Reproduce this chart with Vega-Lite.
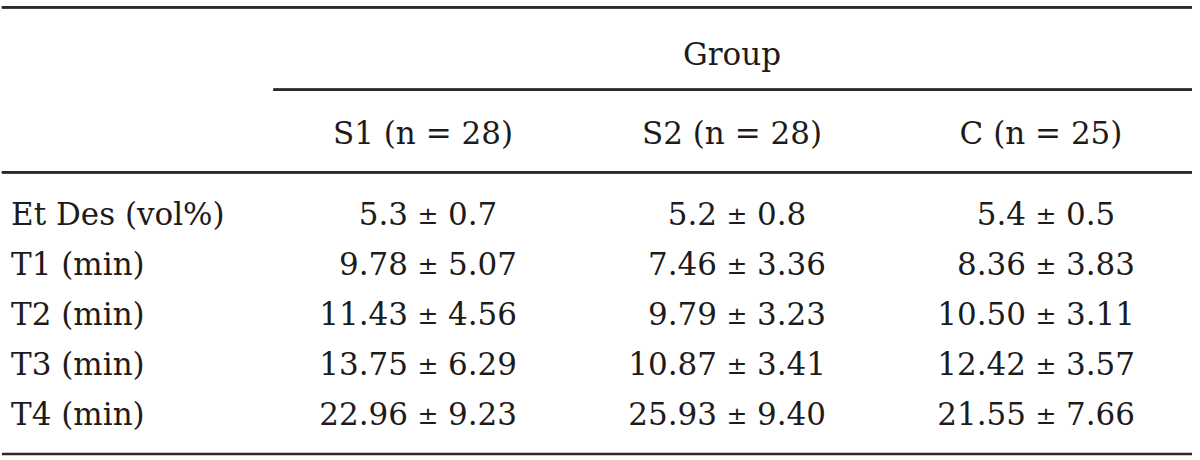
{
  "$schema": "https://vega.github.io/schema/vega-lite/v6.json",
  "width": 1200,
  "height": 460,
  "autosize": {"type": "none"},
  "padding": 0,
  "background": "white",
  "config": {
    "view": {"stroke": null},
    "text": {"font": "DejaVu Serif", "fontSize": 31, "color": "#1e1b1c", "baseline": "middle"},
    "rule": {"color": "#2a2a2a", "strokeWidth": 2.5},
    "axis": {"disable": true}
  },
  "datasets": {
    "groups": [
      {"group": "S1", "header": "S1 (n = 28)"},
      {"group": "S2", "header": "S2 (n = 28)"},
      {"group": "C", "header": "C (n = 25)"}
    ],
    "stats": [
      {"variable": "Et Des (vol%)", "group": "S1", "mean": 5.3, "sd": 0.7},
      {"variable": "Et Des (vol%)", "group": "S2", "mean": 5.2, "sd": 0.8},
      {"variable": "Et Des (vol%)", "group": "C", "mean": 5.4, "sd": 0.5},
      {"variable": "T1 (min)", "group": "S1", "mean": 9.78, "sd": 5.07},
      {"variable": "T1 (min)", "group": "S2", "mean": 7.46, "sd": 3.36},
      {"variable": "T1 (min)", "group": "C", "mean": 8.36, "sd": 3.83},
      {"variable": "T2 (min)", "group": "S1", "mean": 11.43, "sd": 4.56},
      {"variable": "T2 (min)", "group": "S2", "mean": 9.79, "sd": 3.23},
      {"variable": "T2 (min)", "group": "C", "mean": 10.50, "sd": 3.11},
      {"variable": "T3 (min)", "group": "S1", "mean": 13.75, "sd": 6.29},
      {"variable": "T3 (min)", "group": "S2", "mean": 10.87, "sd": 3.41},
      {"variable": "T3 (min)", "group": "C", "mean": 12.42, "sd": 3.57},
      {"variable": "T4 (min)", "group": "S1", "mean": 22.96, "sd": 9.23},
      {"variable": "T4 (min)", "group": "S2", "mean": 25.93, "sd": 9.40},
      {"variable": "T4 (min)", "group": "C", "mean": 21.55, "sd": 7.66}
    ]
  },
  "layer": [
    {
      "data": {"name": "groups"},
      "layer": [
        {
          "mark": {"type": "rule"},
          "encoding": {
            "x": {"datum": "Variable", "type": "nominal", "bandPosition": 0.121, "title": null,
                  "scale": {"type": "band", "domain": ["Variable", "S1", "S2", "C"], "range": [-35.5, 1200.5], "paddingInner": 0, "paddingOuter": 0}},
            "x2": {"datum": "C", "bandPosition": 0.9725},
            "y": {"datum": "Group", "type": "nominal", "bandPosition": 0,
                  "scale": {"type": "band", "domain": ["Group", "Header"], "range": [7.3, 172.3], "paddingInner": 0, "paddingOuter": 0}}
          }
        },
        {
          "mark": {"type": "rule"},
          "encoding": {
            "x": {"datum": "S1", "type": "nominal", "bandPosition": 0, "title": null,
                  "scale": {"type": "band", "domain": ["Variable", "S1", "S2", "C"], "range": [-35.5, 1200.5], "paddingInner": 0, "paddingOuter": 0}},
            "x2": {"datum": "C", "bandPosition": 0.9725},
            "y": {"datum": "Header", "type": "nominal", "bandPosition": 0,
                  "scale": {"type": "band", "domain": ["Group", "Header"], "range": [7.3, 172.3], "paddingInner": 0, "paddingOuter": 0}}
          }
        },
        {
          "mark": {"type": "rule"},
          "encoding": {
            "x": {"datum": "Variable", "type": "nominal", "bandPosition": 0.121, "title": null,
                  "scale": {"type": "band", "domain": ["Variable", "S1", "S2", "C"], "range": [-35.5, 1200.5], "paddingInner": 0, "paddingOuter": 0}},
            "x2": {"datum": "C", "bandPosition": 0.9725},
            "y": {"datum": "Header", "type": "nominal", "bandPosition": 1,
                  "scale": {"type": "band", "domain": ["Group", "Header"], "range": [7.3, 172.3], "paddingInner": 0, "paddingOuter": 0}}
          }
        },
        {
          "mark": {"type": "text", "align": "center", "dx": -5},
          "encoding": {
            "x": {"field": "group", "type": "nominal", "title": null,
                  "scale": {"type": "band", "domain": ["Variable", "S1", "S2", "C"], "range": [-35.5, 1200.5], "paddingInner": 0, "paddingOuter": 0}},
            "y": {"datum": "Header", "type": "nominal", "bandPosition": 0.545,
                  "scale": {"type": "band", "domain": ["Group", "Header"], "range": [7.3, 172.3], "paddingInner": 0, "paddingOuter": 0}},
            "text": {"field": "header"}
          }
        },
        {
          "data": {"values": [{"spanner": "Group"}]},
          "mark": {"type": "text", "align": "center", "dx": -5},
          "encoding": {
            "x": {"datum": "S2", "type": "nominal", "title": null,
                  "scale": {"type": "band", "domain": ["Variable", "S1", "S2", "C"], "range": [-35.5, 1200.5], "paddingInner": 0, "paddingOuter": 0}},
            "y": {"datum": "Group", "type": "nominal", "bandPosition": 0.585,
                  "scale": {"type": "band", "domain": ["Group", "Header"], "range": [7.3, 172.3], "paddingInner": 0, "paddingOuter": 0}},
            "text": {"field": "spanner"}
          }
        }
      ]
    },
    {
      "data": {"name": "stats"},
      "layer": [
        {
          "transform": [{"filter": "datum.group === 'S1'"}],
          "mark": {"type": "text", "align": "left", "dx": 46.5},
          "encoding": {
            "x": {"datum": "Variable", "type": "nominal", "bandPosition": 0, "title": null,
                  "scale": {"type": "band", "domain": ["Variable", "S1", "S2", "C"], "range": [-35.5, 1200.5], "paddingInner": 0, "paddingOuter": 0}},
            "y": {"field": "variable", "type": "nominal",
                  "scale": {"type": "band", "domain": ["Et Des (vol%)", "T1 (min)", "T2 (min)", "T3 (min)", "T4 (min)"], "range": [191.3, 441.3], "paddingInner": 0, "paddingOuter": 0}},
            "text": {"field": "variable"}
          }
        },
        {
          "mark": {"type": "text", "align": "right", "dx": -20},
          "encoding": {
            "x": {"field": "group", "type": "nominal", "title": null,
                  "scale": {"type": "band", "domain": ["Variable", "S1", "S2", "C"], "range": [-35.5, 1200.5], "paddingInner": 0, "paddingOuter": 0}},
            "y": {"field": "variable", "type": "nominal",
                  "scale": {"type": "band", "domain": ["Et Des (vol%)", "T1 (min)", "T2 (min)", "T3 (min)", "T4 (min)"], "range": [191.3, 441.3], "paddingInner": 0, "paddingOuter": 0}},
            "text": {
              "condition": {"test": "datum.variable === 'Et Des (vol%)'", "field": "mean", "type": "quantitative", "format": ".1f"},
              "field": "mean", "type": "quantitative", "format": ".2f"
            }
          }
        },
        {
          "mark": {"type": "text", "align": "center", "text": "±", "fontSize": 25},
          "encoding": {
            "x": {"field": "group", "type": "nominal", "title": null,
                  "scale": {"type": "band", "domain": ["Variable", "S1", "S2", "C"], "range": [-35.5, 1200.5], "paddingInner": 0, "paddingOuter": 0}},
            "y": {"field": "variable", "type": "nominal",
                  "scale": {"type": "band", "domain": ["Et Des (vol%)", "T1 (min)", "T2 (min)", "T3 (min)", "T4 (min)"], "range": [191.3, 441.3], "paddingInner": 0, "paddingOuter": 0}}
          }
        },
        {
          "mark": {"type": "text", "align": "left", "dx": 20},
          "encoding": {
            "x": {"field": "group", "type": "nominal", "title": null,
                  "scale": {"type": "band", "domain": ["Variable", "S1", "S2", "C"], "range": [-35.5, 1200.5], "paddingInner": 0, "paddingOuter": 0}},
            "y": {"field": "variable", "type": "nominal",
                  "scale": {"type": "band", "domain": ["Et Des (vol%)", "T1 (min)", "T2 (min)", "T3 (min)", "T4 (min)"], "range": [191.3, 441.3], "paddingInner": 0, "paddingOuter": 0}},
            "text": {
              "condition": {"test": "datum.variable === 'Et Des (vol%)'", "field": "sd", "type": "quantitative", "format": ".1f"},
              "field": "sd", "type": "quantitative", "format": ".2f"
            }
          }
        },
        {
          "transform": [{"filter": "datum.group === 'S1' && datum.variable === 'T4 (min)'"}],
          "mark": {"type": "rule"},
          "encoding": {
            "x": {"datum": "Variable", "type": "nominal", "bandPosition": 0.121, "title": null,
                  "scale": {"type": "band", "domain": ["Variable", "S1", "S2", "C"], "range": [-35.5, 1200.5], "paddingInner": 0, "paddingOuter": 0}},
            "x2": {"datum": "C", "bandPosition": 0.9725},
            "y": {"field": "variable", "type": "nominal", "bandPosition": 1.254,
                  "scale": {"type": "band", "domain": ["Et Des (vol%)", "T1 (min)", "T2 (min)", "T3 (min)", "T4 (min)"], "range": [191.3, 441.3], "paddingInner": 0, "paddingOuter": 0}}
          }
        }
      ]
    }
  ],
  "resolve": {"scale": {"y": "independent"}}
}
